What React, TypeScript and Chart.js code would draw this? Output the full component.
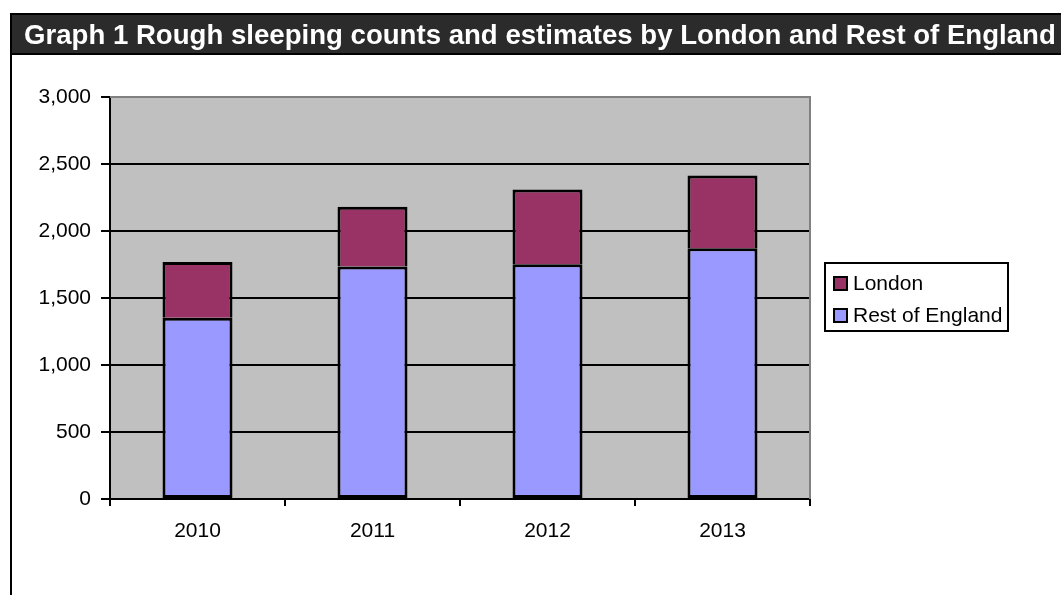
import React, { useEffect, useRef } from "react";
import { Chart, registerables } from "chart.js";

Chart.register(...registerables);

const categories = ["2010", "2011", "2012", "2013"];
const restOfEngland = [1353, 1735, 1752, 1871];
const london = [415, 446, 557, 543];
const yMin = 0;
const yMax = 3000;
const yStep = 500;
const titleText = "Graph 1 Rough sleeping counts and estimates by London and Rest of England";
const legendOrder = ["London", "Rest of England"];

const FONT = "'Liberation Sans', Arial, sans-serif";

const framePlugin = {
  id: "frame",
  beforeDraw(chart: any) {
    const { ctx, chartArea } = chart;
    ctx.save();
    ctx.fillStyle = "#ffffff";
    ctx.fillRect(0, 0, chart.width, chart.height);
    // title bar
    ctx.fillStyle = "#2b2b2b";
    ctx.fillRect(10, 13, chart.width - 10, 42);
    ctx.strokeStyle = "#000000";
    ctx.lineWidth = 2;
    ctx.beginPath();
    ctx.moveTo(11, chart.height);
    ctx.lineTo(11, 14);
    ctx.lineTo(chart.width, 14);
    ctx.moveTo(11, 54);
    ctx.lineTo(chart.width, 54);
    ctx.stroke();
    // plot background
    ctx.fillStyle = "#C0C0C0";
    ctx.fillRect(chartArea.left, chartArea.top, chartArea.right - chartArea.left, chartArea.bottom - chartArea.top);
    ctx.restore();
  },
  beforeDatasetsDraw(chart: any) {
    const { ctx, chartArea } = chart;
    ctx.save();
    ctx.strokeStyle = "#808080";
    ctx.lineWidth = 2;
    ctx.beginPath();
    ctx.moveTo(chartArea.left, chartArea.top);
    ctx.lineTo(chartArea.right, chartArea.top);
    ctx.lineTo(chartArea.right, chartArea.bottom);
    ctx.stroke();
    ctx.restore();
  },
  afterDraw(chart: any) {
    const { ctx } = chart;
    ctx.save();
    // title
    ctx.fillStyle = "#ffffff";
    ctx.font = `bold 27.6px ${FONT}`;
    ctx.textBaseline = "alphabetic";
    ctx.textAlign = "left";
    ctx.fillText(titleText, 24, 44);
    // legend
    const lx = 825, ly = 263, lw = 183, lh = 68;
    ctx.fillStyle = "#ffffff";
    ctx.fillRect(lx, ly, lw, lh);
    ctx.strokeStyle = "#000000";
    ctx.lineWidth = 2;
    ctx.strokeRect(lx, ly, lw, lh);
    ctx.font = `21px ${FONT}`;
    ctx.textBaseline = "middle";
    legendOrder.forEach((name, i) => {
      const ds = chart.data.datasets.find((d: any) => d.label === name);
      const cy = ly + 20 + i * 32;
      ctx.fillStyle = ds.backgroundColor;
      ctx.fillRect(834, cy - 6, 13, 13);
      ctx.lineWidth = 2;
      ctx.strokeStyle = "#000000";
      ctx.strokeRect(834, cy - 6, 13, 13);
      ctx.fillStyle = "#000000";
      ctx.fillText(name, 853, cy + 1);
    });
    ctx.restore();
  },
};

export default function App() {
  const ref = useRef<HTMLCanvasElement | null>(null);
  useEffect(() => {
    if (!ref.current) return;
    const chart = new Chart(ref.current, {
      type: "bar",
      data: {
        labels: categories,
        datasets: [
          {
            label: "Rest of England",
            data: restOfEngland,
            backgroundColor: "#9999FF",
            borderColor: "#000000",
            borderWidth: 3,
            borderSkipped: false,
            barPercentage: 0.4,
            categoryPercentage: 1.0,
          },
          {
            label: "London",
            data: london,
            backgroundColor: "#993366",
            borderColor: "#000000",
            borderWidth: 3,
            borderSkipped: "start",
            barPercentage: 0.4,
            categoryPercentage: 1.0,
          },
        ],
      },
      options: {
        responsive: false,
        animation: false,
        devicePixelRatio: 1,
        layout: { padding: { top: 97, right: 251, left: 0, bottom: 0 } },
        plugins: {
          legend: { display: false },
          title: { display: false },
          tooltip: { enabled: false },
        },
        scales: {
          x: {
            stacked: true,
            afterFit: (s: any) => { s.height = 96; },
            grid: {
              offset: true,
              drawOnChartArea: false,
              drawTicks: true,
              tickLength: 7,
              tickColor: "#000000",
              lineWidth: 2,
            },
            border: { color: "#000000", width: 2 },
            ticks: { color: "#000000", font: { family: FONT, size: 21 }, padding: 13 },
          },
          y: {
            stacked: true,
            min: yMin,
            max: yMax,
            afterFit: (s: any) => { s.width = 110; },
            grid: {
              color: (c: any) => (c.tick && c.tick.value === yMax ? "#808080" : "#000000"),
              lineWidth: 2,
              tickLength: 9,
              tickColor: "#000000",
            },
            border: { color: "#000000", width: 2 },
            ticks: {
              stepSize: yStep,
              color: "#000000",
              font: { family: FONT, size: 21 },
              padding: 10,
              callback: (v: any) => Number(v).toLocaleString("en-US"),
            },
          },
        },
      },
      plugins: [framePlugin],
    });
    return () => chart.destroy();
  }, []);
  return (
    <div style={{ position: "fixed", left: 0, top: 0, width: 1061, height: 595, background: "#fff" }}>
      <canvas ref={ref} width={1061} height={595} style={{ display: "block" }} />
    </div>
  );
}
